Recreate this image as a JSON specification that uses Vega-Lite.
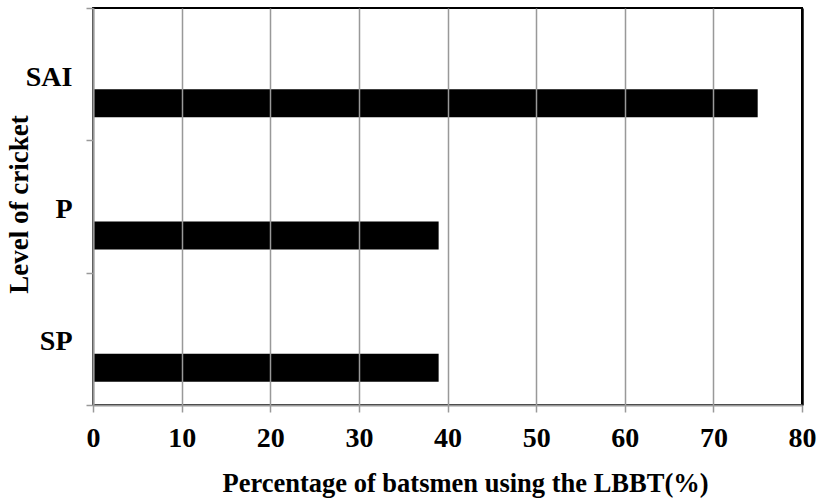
{
  "$schema": "https://vega.github.io/schema/vega-lite/v6.json",
  "autosize": {"type": "none"},
  "padding": {"left": 93, "top": 8, "right": 15, "bottom": 97},
  "width": 709,
  "height": 397,
  "background": "white",
  "config": {
    "view": {"stroke": "#000", "strokeWidth": 2},
    "font": "Liberation Serif"
  },
  "data": {
    "values": [
      {"level": "SAI", "pct": 75},
      {"level": "P", "pct": 39},
      {"level": "SP", "pct": 39}
    ]
  },
  "mark": {"type": "bar", "color": "#000", "height": 28, "yOffset": 29},
  "encoding": {
    "y": {
      "field": "level",
      "type": "nominal",
      "sort": ["SAI", "P", "SP"],
      "scale": {"paddingInner": 0, "paddingOuter": 0},
      "axis": {
        "title": "Level of cricket",
        "titleFont": "Liberation Serif",
        "titleFontSize": 27,
        "titleFontWeight": "bold",
        "titleColor": "#000",
        "titleAngle": 270,
        "titleX": -74,
        "titleY": 196,
        "titleAlign": "center",
        "titleBaseline": "middle",
        "labelFont": "Liberation Serif",
        "labelFontSize": 28,
        "labelFontWeight": "bold",
        "labelColor": "#000",
        "labelPadding": 14,
        "labelOffset": 3,
        "labelAngle": 0,
        "tickBand": "extent",
        "tickSize": 7,
        "tickColor": "#999",
        "tickWidth": 1.5,
        "domainColor": "#999",
        "domainWidth": 2,
        "grid": false,
        "zindex": 1
      }
    },
    "x": {
      "field": "pct",
      "type": "quantitative",
      "scale": {"domain": [0, 80], "nice": false},
      "axis": {
        "title": "Percentage of batsmen using the LBBT(%)",
        "titleFont": "Liberation Serif",
        "titleFontSize": 26.5,
        "titleFontWeight": "bold",
        "titleColor": "#000",
        "titlePadding": 18,
        "titleX": 372,
        "values": [0, 10, 20, 30, 40, 50, 60, 70, 80],
        "labelFont": "Liberation Serif",
        "labelFontSize": 28,
        "labelFontWeight": "bold",
        "labelColor": "#000",
        "labelPadding": 12,
        "labelFlush": false,
        "tickSize": 7,
        "tickColor": "#999",
        "tickWidth": 1.5,
        "domainColor": "#999",
        "domainWidth": 2,
        "grid": true,
        "gridColor": {"condition": {"test": "datum.value === 80", "value": "#000"}, "value": "#999"},
        "gridWidth": {"condition": {"test": "datum.value === 80", "value": 2.5}, "value": 1.5},
        "zindex": 1
      }
    }
  }
}
